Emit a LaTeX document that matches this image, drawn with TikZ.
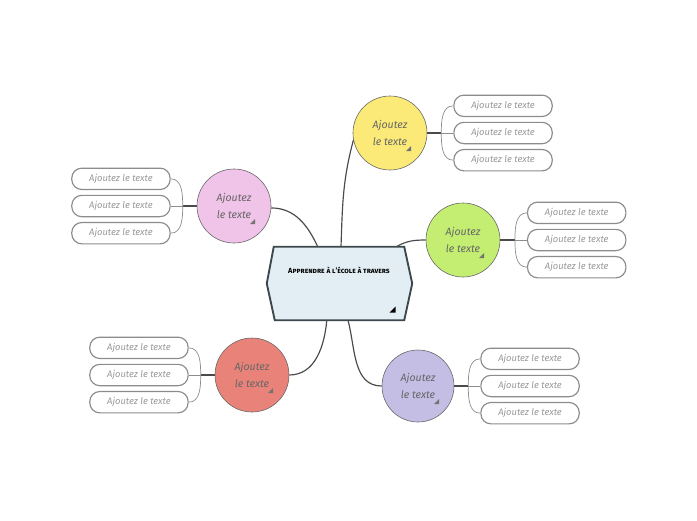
\documentclass[tikz,border=0pt]{standalone}
\usepackage{fontspec}
\setmainfont{Fira Sans}
\usetikzlibrary{positioning,calc}
\definecolor{topicfill}{HTML}{E2EEF4}
\definecolor{topicline}{HTML}{3C484C}
\definecolor{ideaYellow}{HTML}{FBEA78}
\definecolor{ideaPink}{HTML}{F0C3E8}
\definecolor{ideaGreen}{HTML}{C4EE72}
\definecolor{ideaRed}{HTML}{E9837A}
\definecolor{ideaPurple}{HTML}{C4BEE5}
\definecolor{branch}{HTML}{4A4A4A}
\definecolor{twig}{HTML}{8C8C8C}
\tikzset{
  topic/.style={minimum width=4.35cm, minimum height=2.19cm, inner sep=0pt},
  topicedge/.style={draw=topicline, line width=1.6pt, fill=topicfill},
  idea/.style={circle, draw=black!60, line width=0.5pt, minimum size=2.22cm,
    inner sep=0pt, align=center, font=\fontsize{9}{15}\selectfont\itshape, text=black!60},
  leaf/.style={draw=black!45, line width=1pt, rounded corners=0.3cm,
    minimum width=2.95cm, minimum height=0.64cm, inner sep=0pt,
    font=\fontsize{8}{9}\selectfont\itshape, text=black!40},
  branchline/.style={draw=branch, line width=1pt},
  twigline/.style={draw=twig, line width=0.6pt},
  fold/.style={fill=black!55}
}
\begin{document}
\begin{tikzpicture}[x=0.03cm, y=0.03cm]
  \useasboundingbox (0,0) rectangle (697,-520);
  % central topic
  \node[topic] (topic) at (339.5,-283.5) {};
  \draw[topicedge] (topic.west) -- ($(topic.north west)+(7,0)$) -- ($(topic.north east)+(-8,0)$)
    -- (topic.east) -- ($(topic.south east)+(-8,0)$) -- ($(topic.south west)+(8,0)$) -- cycle;
  \node[font=\fontsize{6.3}{7}\selectfont\bfseries\scshape] (title) at (339,-270) {Apprendre à l'école à travers};
  \fill ($(topic)+(56,-29)$) -- ($(topic)+(56,-23)$) -- ($(topic)+(50,-29)$) -- cycle;

  % ideas
  \node[idea, fill=ideaYellow] (sun) at (390,-133) {Ajoutez\\le texte};
  \node[idea, fill=ideaPink] (blossom) at (234,-206) {Ajoutez\\le texte};
  \node[idea, fill=ideaGreen] (meadow) at (463,-240) {Ajoutez\\le texte};
  \node[idea, fill=ideaRed] (ember) at (252,-375) {Ajoutez\\le texte};
  \node[idea, fill=ideaPurple, minimum size=2.16cm] (dusk) at (418,-386) {Ajoutez\\le texte};
  \foreach \n in {sun,blossom,meadow,ember,dusk}
    \fill[fold] ($(\n)+(21,-18)$) -- ($(\n)+(21,-13)$) -- ($(\n)+(16,-18)$) -- cycle;

  \draw[branchline] ($(topic.north)+(1.5,0)$) to[out=88,in=-105] (sun.191);
  \draw[branchline] ($(topic.north west)+(51,0)$) to[out=115,in=0] (blossom.357);
  \draw[branchline] ($(topic.north east)+(-16,0)$) to[out=30,in=180] (meadow.west);
  \draw[branchline] ($(topic.south west)+(60,0)$) to[out=-95,in=0] (ember.east);
  \draw[branchline] ($(topic.south)+(8.5,0)$) to[out=-75,in=180] (dusk.west);

  % yellow leaves
  \node[leaf, right=0.78cm of sun] (sunB) {Ajoutez le texte};
  \node[leaf, above=0.14cm of sunB] (sunA) {Ajoutez le texte};
  \node[leaf, below=0.14cm of sunB] (sunC) {Ajoutez le texte};
  \coordinate[right=0.42cm of sun] (sunJ);
  \draw[branchline] (sun.east) -- (sunJ);
  \draw[twigline] (sunJ) -- (sunB.west);
  \draw[twigline] (sunJ) to[out=90,in=180] (sunA.west);
  \draw[twigline] (sunJ) to[out=-90,in=180] (sunC.west);

  % pink leaves
  \node[leaf, left=0.78cm of blossom] (blossomB) {Ajoutez le texte};
  \node[leaf, above=0.14cm of blossomB] (blossomA) {Ajoutez le texte};
  \node[leaf, below=0.14cm of blossomB] (blossomC) {Ajoutez le texte};
  \coordinate[left=0.42cm of blossom] (blossomJ);
  \draw[branchline] (blossom.west) -- (blossomJ);
  \draw[twigline] (blossomJ) -- (blossomB.east);
  \draw[twigline] (blossomJ) to[out=90,in=0] (blossomA.east);
  \draw[twigline] (blossomJ) to[out=-90,in=0] (blossomC.east);

  % green leaves
  \node[leaf, right=0.8cm of meadow] (meadowB) {Ajoutez le texte};
  \node[leaf, above=0.14cm of meadowB] (meadowA) {Ajoutez le texte};
  \node[leaf, below=0.14cm of meadowB] (meadowC) {Ajoutez le texte};
  \coordinate[right=0.44cm of meadow] (meadowJ);
  \draw[branchline] (meadow.east) -- (meadowJ);
  \draw[twigline] (meadowJ) -- (meadowB.west);
  \draw[twigline] (meadowJ) to[out=90,in=180] (meadowA.west);
  \draw[twigline] (meadowJ) to[out=-90,in=180] (meadowC.west);

  % red leaves
  \node[leaf, left=0.78cm of ember] (emberB) {Ajoutez le texte};
  \node[leaf, above=0.14cm of emberB] (emberA) {Ajoutez le texte};
  \node[leaf, below=0.14cm of emberB] (emberC) {Ajoutez le texte};
  \coordinate[left=0.42cm of ember] (emberJ);
  \draw[branchline] (ember.west) -- (emberJ);
  \draw[twigline] (emberJ) -- (emberB.east);
  \draw[twigline] (emberJ) to[out=90,in=0] (emberA.east);
  \draw[twigline] (emberJ) to[out=-90,in=0] (emberC.east);

  % purple leaves
  \node[leaf, right=0.78cm of dusk] (duskB) {Ajoutez le texte};
  \node[leaf, above=0.14cm of duskB] (duskA) {Ajoutez le texte};
  \node[leaf, below=0.14cm of duskB] (duskC) {Ajoutez le texte};
  \coordinate[right=0.42cm of dusk] (duskJ);
  \draw[branchline] (dusk.east) -- (duskJ);
  \draw[twigline] (duskJ) -- (duskB.west);
  \draw[twigline] (duskJ) to[out=90,in=180] (duskA.west);
  \draw[twigline] (duskJ) to[out=-90,in=180] (duskC.west);
\end{tikzpicture}
\end{document}
